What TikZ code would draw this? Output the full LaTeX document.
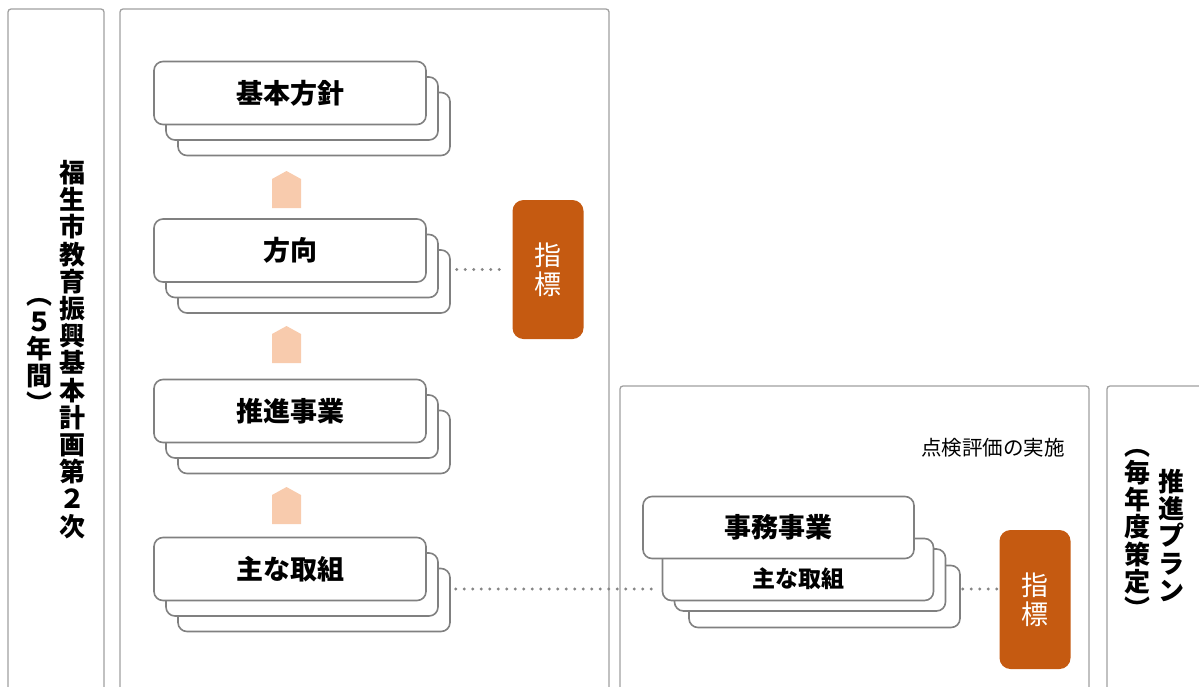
\documentclass[tikz,border=0pt]{standalone}
\usepackage{fontspec}
\newfontfamily\jp{Noto Sans CJK JP}
\usetikzlibrary{calc}
\definecolor{panelgray}{HTML}{A0A0A0}
\definecolor{cardgray}{HTML}{808080}
\definecolor{dotgray}{HTML}{858585}
\definecolor{idxorange}{HTML}{C55A11}
\definecolor{peach}{HTML}{F8CBAD}
\tikzset{
  panel/.style={draw=panelgray, line width=1.3pt, rounded corners=3pt},
  card/.style={draw=cardgray, line width=1.6pt, fill=white, rounded corners=9pt,
    minimum width=272pt, minimum height=63pt, inner sep=0pt,
    font=\jp\bfseries\fontsize{27}{30}\selectfont},
  rcard/.style={card, minimum width=271pt, minimum height=62pt},
  idx/.style={fill=idxorange, rounded corners=11pt, minimum width=71pt, minimum height=139pt,
    inner sep=0pt, text=white, align=center, font=\jp\fontsize{27}{29}\selectfont},
  upshape/.style={fill=peach, draw=none},
  dots/.style={draw=dotgray, line width=3.3pt, line cap=round, dash pattern=on 0pt off 8.5pt},
  vcol/.style={align=center, inner sep=0pt, anchor=north, font=\jp\bfseries\fontsize{26}{27.2}\selectfont},
  note/.style={inner sep=0pt, font=\jp\fontsize{20.5}{24}\selectfont}
}
\begin{document}
\begin{tikzpicture}[x=1pt,y=-1pt]
\useasboundingbox (0,0) rectangle (1199,686);
\clip (0,0) rectangle (1199,686);
% panels
\draw[panel] (8,700) -- (8,9) -- (104,9) -- (104,700);
\draw[panel] (120,700) -- (120,9) -- (609,9) -- (609,700);
\draw[panel] (620,700) -- (620,386) -- (1089,386) -- (1089,700);
\draw[panel] (1107,700) -- (1107,386) -- (1210,386);
% vertical titles
\node[vcol] (title) at (72,160) {福\\生\\市\\教\\育\\振\\興\\基\\本\\計\\画\\第\\２\\次};
\node[vcol] (period) at (39,298) {︵\\５\\年\\間\\︶};
\node[vcol] (plan) at (1171,469) {推\\進\\プ\\ラ\\ン};
\node[vcol] (yearly) at (1137,449) {︵\\毎\\年\\度\\策\\定\\︶};
% left stacks
\foreach \nm/\yc/\txt in {kihon/93/基本方針, hoko/250.5/方向, suishin/411/推進事業, tori/569/主な取組}{
  \node[card] (\nm3) at (314,\yc+31) {};
  \node[card] (\nm2) at (302,\yc+15.5) {};
  \node[card] (\nm1) at (290,\yc) {\raisebox{-2.5pt}{\txt}};
}
% up arrows
\foreach \yt in {171, 326, 487}{
  \fill[upshape] (272,\yt+37) -- (272,\yt+8) -- (286.5,\yt) -- (301,\yt+8) -- (301,\yt+37) -- cycle;
}
% index boxes
\node[idx] (idx1) at (548,269.5) {指\\標};
\node[idx] (idx2) at (1035,599.5) {指\\標};
% right stack
\node[rcard] (rtori3) at (824.5,596.5) {};
\node[rcard] (rtori2) at (810,580) {};
\node[rcard] (rtori1) at (798,569.5) {};
\node[inner sep=0pt, font=\jp\bfseries\fontsize{23}{26}\selectfont] (rtorilabel) at (798,579) {主な取組};
\node[rcard] (jimu) at (778.5,527.5) {\raisebox{-2.5pt}{事務事業}};
\node[note, anchor=east] (tenken) at (1065,448) {点検評価の実施};
% dotted connectors
\coordinate (m) at (0,589);
\draw[dots] ($(hoko3.east |- idx1.west)+(6,0)$) -- ($(idx1.west)+(-13,0)$);
\draw[dots] ($(tori3.east |- m)+(5,0)$) -- ($(rtori1.west |- m)+(-4,0)$);
\draw[dots] ($(rtori3.east |- m)+(2,0)$) -- ($(idx2.west |- m)+(0,0)$);
\end{tikzpicture}
\end{document}
